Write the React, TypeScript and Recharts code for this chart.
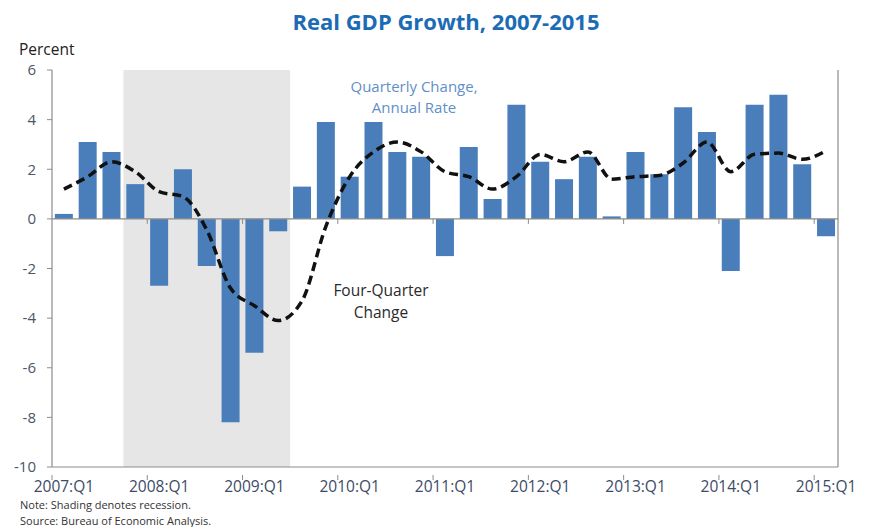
import { ComposedChart, Bar, Line, XAxis, YAxis, ReferenceArea, ReferenceLine } from 'recharts';

const quarters = [
  '2007:Q1', '2007:Q2', '2007:Q3', '2007:Q4',
  '2008:Q1', '2008:Q2', '2008:Q3', '2008:Q4',
  '2009:Q1', '2009:Q2', '2009:Q3', '2009:Q4',
  '2010:Q1', '2010:Q2', '2010:Q3', '2010:Q4',
  '2011:Q1', '2011:Q2', '2011:Q3', '2011:Q4',
  '2012:Q1', '2012:Q2', '2012:Q3', '2012:Q4',
  '2013:Q1', '2013:Q2', '2013:Q3', '2013:Q4',
  '2014:Q1', '2014:Q2', '2014:Q3', '2014:Q4',
  '2015:Q1',
];

// quarterly change, annual rate (bars)
const quarterlyChange = [
  0.2, 3.1, 2.7, 1.4,
  -2.7, 2.0, -1.9, -8.2,
  -5.4, -0.5, 1.3, 3.9,
  1.7, 3.9, 2.7, 2.5,
  -1.5, 2.9, 0.8, 4.6,
  2.3, 1.6, 2.5, 0.1,
  2.7, 1.8, 4.5, 3.5,
  -2.1, 4.6, 5.0, 2.2,
  -0.7,
];

// four-quarter change (dashed line)
const fourQuarterChange = [
  1.2, 1.7, 2.3, 1.9,
  1.1, 0.9, -0.45, -2.8,
  -3.5, -4.1, -3.3, -0.3,
  1.7, 2.7, 3.1, 2.7,
  1.9, 1.7, 1.2, 1.7,
  2.6, 2.3, 2.7, 1.6,
  1.7, 1.75, 2.25, 3.1,
  1.9, 2.6, 2.65, 2.4,
  2.75,
];

const yTicks = [-10, -8, -6, -4, -2, 0, 2, 4, 6];
const yearTicks = quarters.filter(q => q.endsWith('Q1'));
const recessionStart = '2007:Q4';
const recessionEnd = '2009:Q2';

const data = quarters.map((q, i) => ({
  q,
  quarterly: quarterlyChange[i],
  fourQuarter: fourQuarterChange[i],
}));

const W = 880;
const H = 527;
const LEFT_W = 52;
const RIGHT_W = 42;
const TOP = 70;
const XAXIS_H = 60;
const band = (W - LEFT_W - RIGHT_W) / quarters.length;

const FONT = '"Open Sans", sans-serif';
const AXIS_GRAY = '#8c8c8c';
const TICK_TEXT = '#4b5567';

function YearTick(props: any) {
  const { x, y, payload } = props;
  const left = x - band / 2;
  return (
    <g>
      <line x1={left} y1={y} x2={left} y2={y + 5} stroke={AXIS_GRAY} strokeWidth={1} />
      <text x={x} y={y + 17} textAnchor="middle" fontSize={15.5} fill="#3d4b66" fontFamily={FONT}>
        {payload.value}
      </text>
    </g>
  );
}

function ZeroLine(props: any) {
  const { x1, x2, y1 } = props;
  const step = (x2 - x1) / quarters.length;
  const marks = [];
  for (let i = 4; i < quarters.length; i += 4) {
    const x = x1 + step * i;
    marks.push(<line key={i} x1={x} y1={y1} x2={x} y2={y1 + 5} stroke={AXIS_GRAY} strokeWidth={1} />);
  }
  return (
    <g>
      <line x1={x1} y1={y1} x2={x2} y2={y1} stroke={AXIS_GRAY} strokeWidth={1.2} />
      {marks}
    </g>
  );
}

export default function App() {
  return (
    <div style={{ position: 'absolute', left: 0, top: 0, width: W, height: H, background: '#fff', fontFamily: FONT }}>
      <div style={{ position: 'absolute', left: 0, width: W, top: 6, textAlign: 'center', paddingLeft: 12, boxSizing: 'border-box', fontSize: 22, fontWeight: 700, color: '#1b6bb5' }}>
        Real GDP Growth, 2007-2015
      </div>
      <div style={{ position: 'absolute', left: 19, top: 38, fontSize: 15.5, color: '#222' }}>Percent</div>
      <div style={{ position: 'absolute', left: 314, width: 200, top: 76, textAlign: 'center', fontSize: 15, lineHeight: '20.5px', color: '#5f8fc8' }}>
        Quarterly Change,<br />Annual Rate
      </div>
      <div style={{ position: 'absolute', left: 281, width: 200, top: 280, textAlign: 'center', fontSize: 15.5, lineHeight: '21.5px', color: '#2a2a2a' }}>
        Four-Quarter<br />Change
      </div>
      <div style={{ position: 'absolute', left: 20, top: 497, fontSize: 11, lineHeight: '15.5px', color: '#333' }}>
        Note: Shading denotes recession.<br />Source: Bureau of Economic Analysis.
      </div>
      <ComposedChart
        width={W}
        height={H}
        data={data}
        margin={{ top: TOP, right: 0, bottom: 0, left: 0 }}
        barCategoryGap="12%"
      >
        <XAxis
          dataKey="q"
          ticks={yearTicks}
          interval={0}
          height={XAXIS_H}
          tickLine={false}
          axisLine={{ stroke: AXIS_GRAY, strokeWidth: 1.2 }}
          tick={<YearTick />}
        />
        <YAxis
          yAxisId="left"
          orientation="left"
          width={LEFT_W}
          domain={[-10, 6]}
          ticks={yTicks}
          interval={0}
          tickSize={5}
          tickMargin={11}
          axisLine={{ stroke: AXIS_GRAY, strokeWidth: 1.2 }}
          tickLine={{ stroke: AXIS_GRAY }}
          tick={{ fontSize: 15, fill: TICK_TEXT, fontFamily: FONT }}
        />
        <YAxis
          yAxisId="right"
          orientation="right"
          width={RIGHT_W}
          domain={[-10, 6]}
          ticks={yTicks}
          interval={0}
          tickSize={5}
          tickMargin={9}
          axisLine={{ stroke: AXIS_GRAY, strokeWidth: 1.2 }}
          tickLine={{ stroke: AXIS_GRAY }}
          tick={{ fontSize: 15, fill: TICK_TEXT, fontFamily: FONT, textAnchor: 'start' }}
        />
        <ReferenceArea
          yAxisId="left"
          x1={recessionStart}
          x2={recessionEnd}
          y1={-10}
          y2={6}
          fill="#e6e6e6"
          fillOpacity={1}
          stroke="none"
        />
        <Bar yAxisId="left" dataKey="quarterly" fill="#4a7ebb" isAnimationActive={false} />
        <ReferenceLine yAxisId="left" y={0} shape={<ZeroLine />} />
        <Line
          yAxisId="left"
          type="monotone"
          dataKey="fourQuarter"
          stroke="#111"
          strokeWidth={3.5}
          strokeDasharray="9 5"
          dot={false}
          activeDot={false}
          isAnimationActive={false}
        />
      </ComposedChart>
    </div>
  );
}
